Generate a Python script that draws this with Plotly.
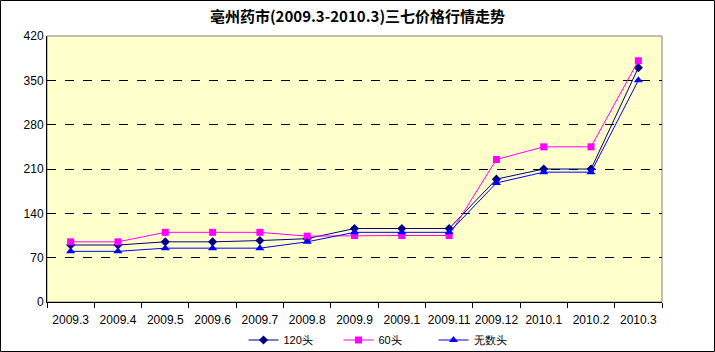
import plotly.graph_objects as go

categories = ["2009.3", "2009.4", "2009.5", "2009.6", "2009.7", "2009.8", "2009.9",
              "2009.1", "2009.11", "2009.12", "2010.1", "2010.2", "2010.3"]
s120 = [90, 90, 95, 95, 97, 100, 116, 116, 116, 194, 210, 210, 370]
s60 = [95, 95, 110, 110, 110, 104, 105, 105, 105, 225, 245, 245, 381]
swu = [80, 80, 85, 85, 85, 95, 110, 110, 110, 188, 205, 205, 350]
yticks = [0, 70, 140, 210, 280, 350, 420]

L, R, T, B = 47, 53, 36, 50
W, H = 715, 352
pw, ph = W - L - R, H - T - B

fig = go.Figure()
fig.add_trace(go.Scatter(x=categories, y=s120, name="120头", mode="lines+markers",
                         line=dict(color="#000080", width=1),
                         marker=dict(symbol="diamond", size=7, color="#000080")))
fig.add_trace(go.Scatter(x=categories, y=s60, name="60头", mode="lines+markers",
                         line=dict(color="#FF00FF", width=1),
                         marker=dict(symbol="square", size=7, color="#FF00FF")))
fig.add_trace(go.Scatter(x=categories, y=swu, name="无数头", mode="lines+markers",
                         line=dict(color="#0000FF", width=1),
                         marker=dict(symbol="triangle-up", size=8, color="#0000FF")))

# plot area gray border and figure frame
fig.add_shape(type="rect", xref="paper", yref="paper", x0=0, x1=1, y0=0, y1=1,
              line=dict(color="#808080", width=1), layer="below")
fig.add_shape(type="rect", xref="paper", yref="paper",
              x0=(0.5 - L) / pw, x1=(W - 0.5 - L) / pw,
              y0=(H - T - B - (H - 0.5 - T)) / ph, y1=(H - T - B - (0.5 - T)) / ph,
              line=dict(color="black", width=1))

fig.update_layout(
    width=W, height=H,
    margin=dict(l=L, r=R, t=T, b=B, autoexpand=False),
    paper_bgcolor="white",
    plot_bgcolor="#FFFFCC",
    title=dict(text="<b>亳州药市(2009.3-2010.3)三七价格行情走势</b>", x=0.5, xanchor="center",
               y=1 - 17 / H, yanchor="middle",
               font=dict(family="Noto Sans CJK SC", size=15, color="black")),
    font=dict(family="Liberation Sans", size=12, color="black"),
    showlegend=True,
    legend=dict(orientation="h", x=(386 - L) / pw, xanchor="center", y=(302 - 340) / ph,
                yanchor="middle", font=dict(size=11, family="Liberation Sans"),
                bgcolor="rgba(0,0,0,0)", entrywidth=50, tracegroupgap=0),
)
fig.update_xaxes(type="category", showgrid=False, showline=True, linecolor="black", linewidth=1,
                 ticks="outside", tickson="boundaries", ticklen=5, tickcolor="black",
                 tickfont=dict(size=12), tickangle=0, automargin=False, ticklabelstandoff=7,
                 zeroline=False, range=[-0.5, 12.5])
fig.update_yaxes(range=[0, 420], tickvals=yticks, showgrid=True, gridcolor="black",
                 griddash="dash", gridwidth=1, showline=True, linecolor="black", linewidth=1,
                 ticks="", zeroline=False, tickfont=dict(size=12), automargin=False)

fig.write_html("out.html")
